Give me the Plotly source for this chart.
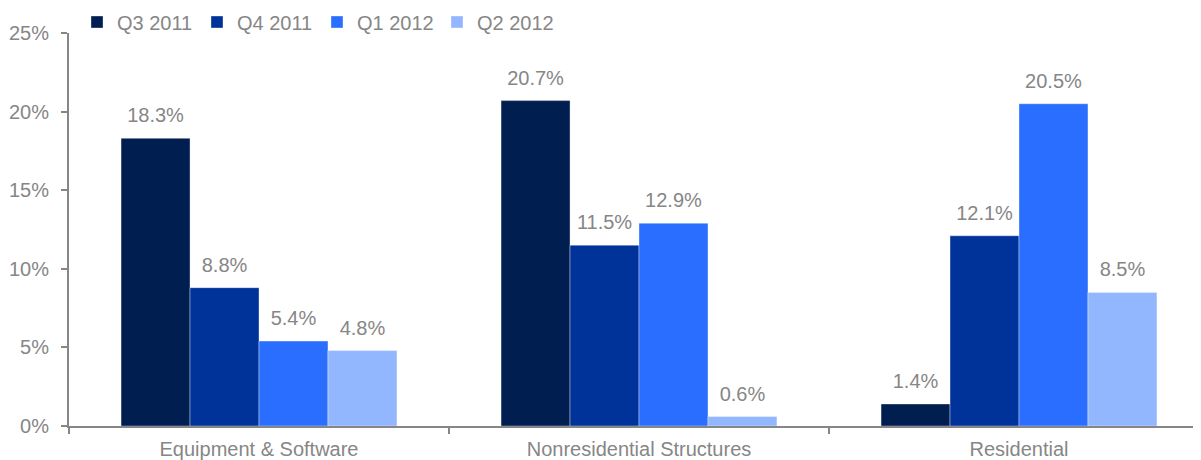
import plotly.graph_objects as go

categories = ["Equipment & Software", "Nonresidential Structures", "Residential"]
series_names = ["Q3 2011", "Q4 2011", "Q1 2012", "Q2 2012"]
q3_2011 = [18.3, 20.7, 1.4]
q4_2011 = [8.8, 11.5, 12.1]
q1_2012 = [5.4, 12.9, 20.5]
q2_2012 = [4.8, 0.6, 8.5]
y_ticks = [0, 5, 10, 15, 20, 25]

series_values = [q3_2011, q4_2011, q1_2012, q2_2012]
colors = ["#001E50", "#00339A", "#2A6EFF", "#93B7FF"]
gray = "#868686"
font_family = "Liberation Sans, Arial, sans-serif"
GAP = 0.274

fig = go.Figure()
for name, vals, col in zip(series_names, series_values, colors):
    fig.add_trace(go.Bar(
        x=categories, y=vals, name=name,
        marker=dict(color=col, line=dict(color="rgba(255,255,255,0.6)", width=0.6)),
        hoverinfo="skip",
    ))
# value labels, grouped like the bars
for name, vals in zip(series_names, series_values):
    fig.add_trace(go.Scatter(
        x=categories, y=vals, mode="markers+text", showlegend=False,
        text=[f"{v:.1f}%" for v in vals], textposition="top center",
        textfont=dict(color=gray, size=20, family=font_family),
        marker=dict(size=16, opacity=0), cliponaxis=False, hoverinfo="skip",
    ))

# page body has an 8px default margin, so shift the layout up/left by 8px
PLOT_W = 1201 - 61
fig.update_layout(
    width=1201, height=460,
    margin=dict(l=61, r=0, t=25, b=42, autoexpand=False),
    barmode="group", bargap=GAP, bargroupgap=0,
    scattermode="group", scattergap=GAP,
    plot_bgcolor="white", paper_bgcolor="white",
    font=dict(family=font_family, color=gray, size=20),
    showlegend=True,
    legend=dict(orientation="h", x=8 / PLOT_W, y=1 + 11 / 393, xanchor="left", yanchor="middle",
                font=dict(size=20, color=gray), entrywidth=75, entrywidthmode="pixels",
                itemwidth=30, tracegroupgap=0, bgcolor="rgba(0,0,0,0)"),
)
fig.update_xaxes(
    range=[-0.5, -0.5 + PLOT_W / 380],
    showline=True, linecolor=gray, linewidth=2, ticks="outside", tickson="boundaries",
    ticklen=6, tickcolor=gray, tickwidth=2, showgrid=False, ticklabelstandoff=4,
    tickfont=dict(size=20, color=gray),
)
fig.update_yaxes(
    range=[0, 25], tickvals=y_ticks, ticktext=[f"{t}%" for t in y_ticks],
    showline=True, linecolor=gray, linewidth=2, ticks="outside", ticklen=6,
    tickcolor=gray, tickwidth=2, showgrid=False, zeroline=False, ticklabelstandoff=8,
    tickfont=dict(size=20, color=gray),
)
fig.write_html("out.html")
